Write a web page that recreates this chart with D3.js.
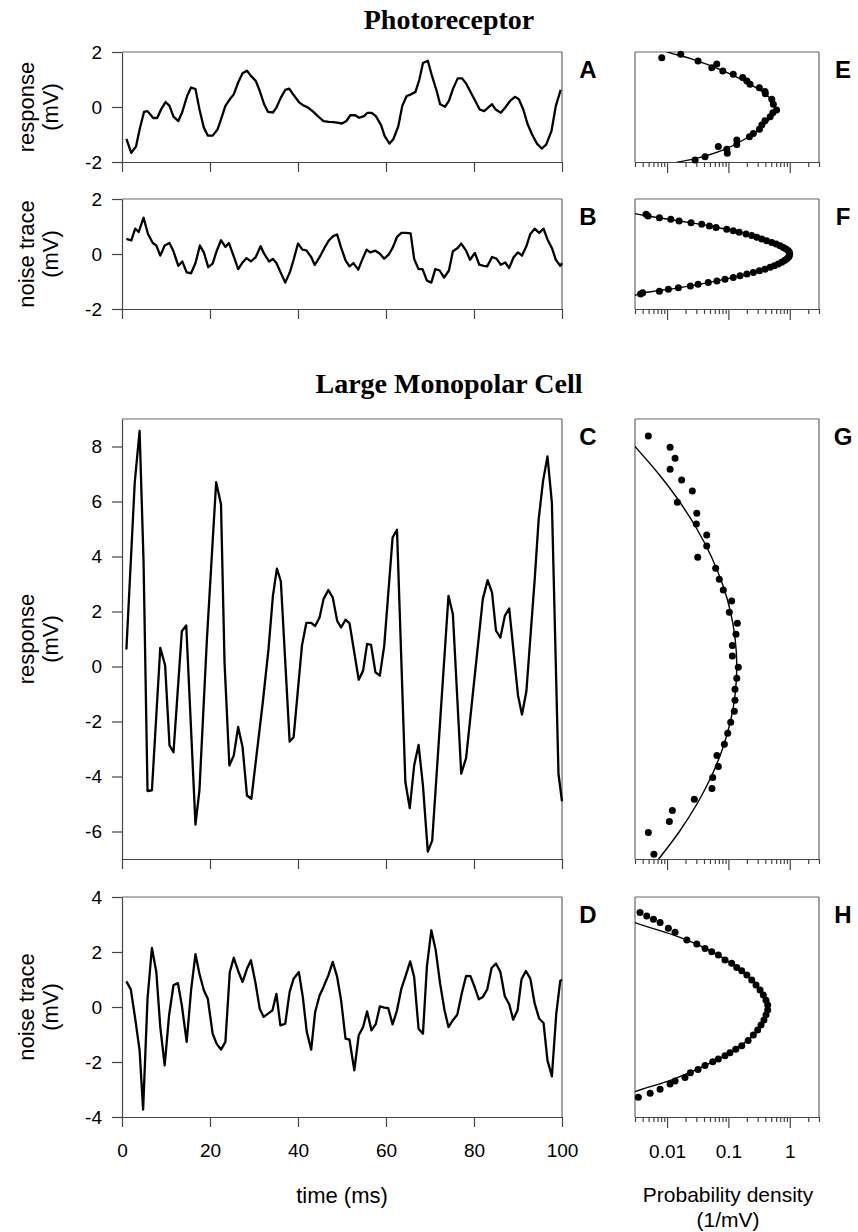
<!DOCTYPE html>
<html><head><meta charset="utf-8">
<script src="https://cdn.jsdelivr.net/npm/d3@7"></script>
<style>body{margin:0;background:#fff}svg{display:block}</style>
</head><body><svg id="c" width="858" height="1232"></svg>
<script>
// ---------- data ----------
const timeTicks=[0,20,40,60,80,100];
const densityMajorTicks=[0.01,0.1,1];
const densityTickLabels=["0.01","0.1","1"];
const densityMinorTicks=[0.003,0.004,0.005,0.006,0.007,0.008,0.009,0.02,0.03,0.04,0.05,0.06,0.07,0.08,0.09,0.2,0.3,0.4,0.5,0.6,0.7,0.8,0.9,2,3];
const ticksAB=[-2,0,2];
const ticksC=[-6,-4,-2,0,2,4,6,8];
const ticksD=[-4,-2,0,2,4];

// Panel A: photoreceptor response
const tA=[1.0,2.1,3.2,4.0,5.0,5.8,7.1,8.0,8.9,9.9,10.8,11.7,12.8,13.7,14.8,15.7,16.7,17.6,18.6,19.5,20.6,21.7,22.5,23.5,24.5,25.4,26.4,27.4,28.4,29.3,30.4,31.3,32.3,33.2,34.3,35.1,36.1,37.1,38.0,38.9,40.2,41.2,42.3,43.5,44.5,45.8,47.0,48.0,48.9,50.0,51.0,51.9,53.0,53.9,55.0,55.8,56.7,57.7,58.9,59.7,60.8,61.7,62.8,63.7,64.7,65.7,66.7,67.6,68.4,69.5,70.4,71.5,72.3,73.4,74.3,75.2,76.3,77.3,78.3,79.3,80.3,81.3,82.3,83.2,84.1,84.9,86.1,87.1,88.2,89.3,90.2,91.2,92.2,93.2,94.3,95.4,96.4,97.6,98.6,99.7];
const vA=[-1.16,-1.67,-1.43,-0.82,-0.18,-0.15,-0.4,-0.4,-0.08,0.18,0.04,-0.35,-0.51,-0.18,0.4,0.71,0.65,-0.08,-0.75,-1.04,-1.04,-0.82,-0.45,0.04,0.28,0.46,0.89,1.23,1.32,1.13,0.95,0.59,0.1,-0.18,-0.2,-0.02,0.34,0.62,0.67,0.46,0.18,0.06,-0.02,-0.18,-0.33,-0.51,-0.54,-0.55,-0.57,-0.6,-0.51,-0.3,-0.3,-0.39,-0.33,-0.21,-0.21,-0.33,-0.67,-1.06,-1.33,-1.16,-0.7,0.04,0.4,0.46,0.55,1.01,1.6,1.68,1.16,0.59,0.1,0.01,0.22,0.65,1.04,1.04,0.83,0.52,0.22,-0.09,-0.15,-0.02,0.1,-0.09,-0.21,-0.02,0.22,0.37,0.28,-0.09,-0.63,-1.0,-1.33,-1.51,-1.37,-0.88,0.04,0.62];

// Panel B: photoreceptor noise trace
const tB=[1.0,2.1,3.0,3.8,4.9,5.9,7.0,7.8,8.7,9.7,10.8,11.7,12.8,13.7,14.7,15.7,16.7,17.7,18.6,19.6,20.6,21.5,22.5,23.5,24.3,25.4,26.4,27.3,28.3,29.3,30.4,31.5,32.3,33.4,34.3,35.1,36.3,37.1,38.2,39.0,40.0,41.0,41.9,43.0,43.8,45.0,46.0,47.0,48.0,48.9,49.7,50.8,51.7,52.6,53.7,54.5,55.6,56.4,57.6,58.6,59.6,60.6,61.5,62.5,63.5,64.5,65.6,66.4,67.4,68.3,69.3,70.3,71.2,72.2,73.2,74.3,75.2,76.3,77.1,78.2,79.1,80.2,81.2,82.2,83.0,84.1,85.1,86.1,87.1,88.0,89.0,90.0,90.9,91.9,92.8,93.8,94.8,95.8,96.7,97.7,98.6,99.6,100];
const vB=[0.55,0.49,0.92,0.80,1.32,0.73,0.40,0.31,-0.06,0.31,0.40,0.10,-0.43,-0.27,-0.67,-0.70,-0.33,0.31,0.06,-0.48,-0.35,0.10,0.50,0.26,0.40,-0.09,-0.55,-0.33,-0.15,-0.27,-0.11,0.28,0.01,-0.27,-0.18,-0.33,-0.76,-1.04,-0.64,-0.21,0.38,0.16,0.13,-0.11,-0.40,-0.09,0.22,0.49,0.65,0.71,0.28,-0.23,-0.45,-0.33,-0.57,-0.24,0.16,0.06,0.12,0.01,-0.17,-0.02,0.22,0.62,0.77,0.77,0.75,-0.18,-0.55,-0.55,-0.97,-1.04,-0.55,-0.60,-0.86,-0.60,0.10,0.22,0.38,0.12,-0.21,0.04,-0.39,-0.43,-0.45,-0.11,-0.17,-0.39,-0.31,-0.51,-0.12,0.06,-0.06,0.28,0.73,0.92,0.77,0.92,0.53,0.22,-0.21,-0.43,-0.33];

// Panel C: LMC response
const tC=[1.0,2.9,4.0,4.9,5.8,6.8,8.7,9.8,10.8,11.7,13.6,14.6,16.7,17.6,19.3,20.5,21.4,22.5,23.3,24.4,25.4,26.4,27.4,28.4,29.4,32.0,33.3,34.3,35.2,36.1,38.1,39.0,40.9,41.9,43.0,43.9,44.9,45.8,46.9,47.9,48.9,49.8,50.8,51.7,53.8,54.8,55.7,56.6,57.6,58.6,59.6,61.5,62.5,64.4,65.4,66.4,67.4,68.4,69.5,70.5,74.2,75.2,77.1,78.2,82.0,83.1,84.1,85.0,86.0,87.0,88.0,90.0,90.9,91.9,93.8,94.7,95.7,96.7,97.7,99.2,100];
const vC=[0.62,6.7,8.57,3.8,-4.53,-4.5,0.68,0.04,-2.87,-3.12,1.28,1.49,-5.75,-4.5,1.0,4.27,6.7,5.9,0.16,-3.6,-3.24,-2.2,-2.93,-4.69,-4.81,-1.3,0.64,2.57,3.56,3.1,-2.73,-2.57,0.76,1.59,1.59,1.47,1.78,2.45,2.78,2.51,1.66,1.42,1.70,1.58,-0.48,-0.15,0.82,0.79,-0.21,-0.33,0.76,4.69,4.97,-4.2,-5.15,-3.6,-2.85,-4.33,-6.73,-6.33,2.57,1.9,-3.9,-3.33,2.45,3.14,2.69,1.3,1.05,1.84,2.11,-1.05,-1.75,-0.91,3.18,5.36,6.75,7.64,5.96,-3.9,-4.9];

// Panel D: LMC noise trace
const tD=[1.0,2.0,3.0,4.0,4.8,5.8,6.8,7.8,8.7,9.7,10.7,11.7,12.7,13.6,14.7,15.7,16.7,17.6,18.6,19.5,20.6,21.5,22.5,23.5,24.5,25.4,26.4,27.4,28.4,29.3,30.3,31.3,32.2,33.2,34.2,35.1,36.0,37.1,38.1,39.0,40.2,41.1,42.0,43.0,43.9,44.9,45.8,46.9,47.9,48.9,49.8,50.8,51.7,52.8,53.8,54.8,55.7,56.7,57.7,58.6,59.6,60.5,61.5,62.5,63.5,64.5,65.5,66.4,67.4,68.4,69.3,70.3,71.3,72.3,73.3,74.2,75.2,76.2,77.2,78.2,79.2,80.2,81.1,82.0,83.0,84.0,85.0,86.0,87.0,88.0,88.9,89.9,90.8,91.8,92.8,93.8,94.8,95.8,96.7,97.7,98.7,99.6,100];
const vD=[0.93,0.64,-0.42,-1.58,-3.73,0.30,2.15,1.27,-0.73,-2.12,-0.30,0.79,0.87,0.06,-1.27,0.61,1.92,1.21,0.61,0.30,-0.97,-1.33,-1.55,-1.27,1.27,1.79,1.31,0.91,1.39,1.70,0.91,-0.06,-0.36,-0.24,-0.12,0.48,-0.67,-0.61,0.55,1.03,1.27,0.36,-0.91,-1.55,-0.18,0.42,0.73,1.15,1.64,1.09,0.24,-1.15,-1.19,-2.30,-1.03,-0.73,-0.16,-0.85,-0.61,0.02,-0.02,-0.04,-0.63,-0.12,0.67,1.15,1.66,1.09,-0.79,-0.97,1.48,2.79,2.06,0.85,-0.12,-0.73,-0.48,-0.28,0.48,1.13,1.12,0.70,0.28,0.36,0.64,1.42,1.58,1.27,0.39,0.10,-0.46,-0.12,1.01,1.31,1.03,0.12,-0.42,-0.58,-1.94,-2.52,-0.24,0.95,0.99];

// Panel E: amplitude distribution (dots) and fit (curve)
const eV=[1.79,1.92,1.67,1.43,1.56,1.31,1.19,1.07,0.95,0.83,0.70,0.56,0.48,0.28,0.10,-0.11,-0.21,-0.35,-0.50,-0.65,-0.81,-0.96,-1.08,-1.20,-1.36,-1.44,-1.54,-1.68,-1.81,-1.93];
const eD=[0.0082,0.0167,0.032,0.0535,0.0645,0.081,0.12,0.171,0.2,0.225,0.32,0.395,0.40,0.51,0.54,0.61,0.53,0.48,0.395,0.35,0.32,0.255,0.22,0.137,0.137,0.0685,0.094,0.096,0.0416,0.0286];
const eFitV=[2.15,1.99,1.77,1.31,0.83,0.44,0.07,-0.04,-0.33,-0.78,-1.2,-1.56,-1.87,-2.0,-2.15];
const eFitD=[0.0075,0.0105,0.0237,0.083,0.225,0.42,0.575,0.58,0.51,0.33,0.175,0.083,0.030,0.0155,0.0095];

// Panel F
const fV=[1.45,1.38,1.32,1.26,1.20,1.14,1.08,1.02,0.96,0.90,0.85,0.79,0.73,0.67,0.61,0.55,0.48,0.42,0.36,0.30,0.24,0.18,0.12,0.06,0,-0.06,-0.12,-0.18,-0.24,-0.30,-0.36,-0.43,-0.48,-0.55,-0.61,-0.67,-0.73,-0.79,-0.85,-0.92,-0.98,-1.04,-1.10,-1.16,-1.23,-1.28,-1.35,-1.41,-1.45];
const fD=[0.00454,0.0049,0.0075,0.0115,0.0157,0.0246,0.0367,0.049,0.063,0.094,0.12,0.15,0.194,0.24,0.29,0.35,0.42,0.51,0.6,0.695,0.79,0.87,0.95,0.985,1.0,0.985,0.95,0.89,0.82,0.74,0.65,0.56,0.48,0.395,0.32,0.255,0.2,0.155,0.12,0.088,0.065,0.047,0.032,0.024,0.0153,0.0105,0.0075,0.004,0.0037];
const fFitV=[1.55,1.47,1.38,1.20,1.02,0.85,0.67,0.48,0.30,0.12,0,-0.12,-0.30,-0.48,-0.67,-0.85,-1.04,-1.23,-1.41,-1.50,-1.58];
const fFitD=[0.0022,0.003,0.0049,0.0157,0.049,0.12,0.24,0.42,0.695,0.95,1.0,0.95,0.74,0.48,0.255,0.12,0.047,0.0153,0.0042,0.003,0.0022];

// Panel G
const gV=[8.38,7.97,7.57,7.17,6.78,6.38,5.97,5.57,5.18,4.78,4.38,3.97,3.57,3.17,2.78,2.38,1.97,1.57,1.17,0.76,0.38,-0.03,-0.43,-0.83,-1.23,-1.63,-2.03,-2.43,-2.83,-3.24,-3.64,-4.04,-4.44,-4.83,-5.24,-5.64,-6.04,-6.83];
const gD=[0.00495,0.0112,0.0135,0.0112,0.0173,0.0258,0.0147,0.0305,0.030,0.0443,0.0443,0.0316,0.062,0.071,0.0826,0.113,0.1035,0.14,0.133,0.116,0.116,0.145,0.137,0.128,0.128,0.125,0.109,0.0975,0.086,0.065,0.0685,0.0555,0.054,0.0278,0.0122,0.0109,0.00495,0.0061];
const gFitV=[8.6,8.0,7.0,6.0,5.0,4.0,3.0,2.0,1.0,0,-1.0,-2.0,-3.0,-4.0,-5.0,-6.0,-7.0,-7.4];
const gFitD=[0.0017,0.003,0.0073,0.0159,0.0307,0.0526,0.080,0.108,0.129,0.137,0.129,0.108,0.080,0.0526,0.0307,0.0159,0.0073,0.0052];

// Panel H
const hV=[3.44,3.31,3.19,3.07,2.86,2.72,2.44,2.29,2.13,2.01,1.89,1.71,1.59,1.44,1.32,1.16,0.98,0.80,0.62,0.44,0.25,0.07,-0.11,-0.29,-0.47,-0.65,-0.84,-1.02,-1.22,-1.41,-1.54,-1.66,-1.77,-1.89,-1.99,-2.13,-2.27,-2.39,-2.56,-2.69,-2.8,-2.99,-3.14,-3.28];
const hD=[0.00362,0.00466,0.006,0.0077,0.0105,0.0135,0.021,0.0305,0.0416,0.0535,0.0685,0.088,0.113,0.137,0.165,0.2,0.24,0.282,0.328,0.371,0.41,0.437,0.437,0.41,0.38,0.34,0.30,0.255,0.21,0.165,0.132,0.106,0.088,0.0685,0.0555,0.0416,0.032,0.024,0.0196,0.0135,0.0112,0.0077,0.0053,0.0034];
const hFitV=[3.2,3.07,2.62,2.11,1.44,0.8,-0.05,-0.9,-1.5,-2.1,-2.63,-3.08,-3.2];
const hFitD=[0.0024,0.003,0.0126,0.0443,0.137,0.29,0.448,0.29,0.137,0.0443,0.0126,0.003,0.0024];

// ---------- drawing ----------
const svg=d3.select("#c");
const SANS="'Liberation Sans', Arial, sans-serif";
const SERIF="'Liberation Serif', 'Times New Roman', serif";
const AX="#444";
const xT=d3.scaleLinear().domain([0,100]).range([122,562]);
const xP=d3.scaleLog().domain([0.003,3]).range([635,819]);
const zip=(a,b)=>a.slice(0,Math.min(a.length,b.length)).map((d,i)=>[d,b[i]]);

function styleAxis(g){
  g.selectAll(".domain").attr("stroke",AX).attr("stroke-width",1.2);
  g.selectAll(".tick line").attr("stroke",AX).attr("stroke-width",1.2);
  g.selectAll("text").attr("font-family",SANS).attr("font-size",19).attr("fill","#000");
}

function leftPanel(top,bottom,domain,yTicks,t,v,lab1,lab2,letter,showX){
  const y=d3.scaleLinear().domain(domain).range([bottom,top]);
  const g=svg.append("g");
  g.append("line").attr("x1",xT(0)).attr("x2",xT(100)).attr("y1",top).attr("y2",top).attr("stroke","#666").attr("stroke-width",1.2);
  g.append("line").attr("x1",xT(100)).attr("x2",xT(100)).attr("y1",top).attr("y2",bottom).attr("stroke","#666").attr("stroke-width",1.2);
  g.append("g").attr("transform",`translate(${xT(0)},0)`)
    .call(d3.axisLeft(y).tickValues(yTicks).tickSize(10).tickSizeOuter(0).tickPadding(10).tickFormat(d=>String(d)))
    .call(styleAxis);
  g.append("g").attr("transform",`translate(0,${bottom})`)
    .call(d3.axisBottom(xT).tickValues(timeTicks).tickSize(10).tickSizeOuter(0).tickPadding(17).tickFormat(showX?(d=>String(d)):(()=>"")))
    .call(styleAxis);
  g.append("path").datum(zip(t,v))
    .attr("fill","none").attr("stroke","#000").attr("stroke-width",2.3).attr("stroke-linejoin","round")
    .attr("d",d3.line().x(d=>xT(d[0])).y(d=>y(d[1])));
  const cy=(top+bottom)/2;
  g.append("text").attr("transform",`translate(34,${cy}) rotate(-90)`).attr("text-anchor","middle")
    .attr("font-family",SANS).attr("font-size",22).text(lab1);
  g.append("text").attr("transform",`translate(58,${cy}) rotate(-90)`).attr("text-anchor","middle")
    .attr("font-family",SANS).attr("font-size",22).text(lab2);
  g.append("text").attr("x",588).attr("y",top+26).attr("text-anchor","middle")
    .attr("font-family",SANS).attr("font-weight","bold").attr("font-size",24).text(letter);
}

let clipN=0;
function rightPanel(top,bottom,domain,dv,dd,cv,cd,letter,showX){
  const y=d3.scaleLinear().domain(domain).range([bottom,top]);
  const g=svg.append("g");
  const id="clip"+(clipN++);
  svg.append("clipPath").attr("id",id).append("rect").attr("x",635).attr("y",top).attr("width",184).attr("height",bottom-top);
  g.append("line").attr("x1",635).attr("x2",819).attr("y1",top).attr("y2",top).attr("stroke","#666").attr("stroke-width",1.2);
  g.append("line").attr("x1",635).attr("x2",635).attr("y1",top).attr("y2",bottom).attr("stroke","#666").attr("stroke-width",1.2);
  g.append("line").attr("x1",819).attr("x2",819).attr("y1",top).attr("y2",bottom).attr("stroke","#666").attr("stroke-width",1.2);
  g.append("g").attr("transform",`translate(0,${bottom})`)
    .call(d3.axisBottom(xP).tickValues(densityMinorTicks).tickSize(5).tickSizeOuter(0).tickFormat(()=>""))
    .call(styleAxis);
  g.append("g").attr("transform",`translate(0,${bottom})`)
    .call(d3.axisBottom(xP).tickValues(densityMajorTicks).tickSize(11).tickSizeOuter(0).tickPadding(17)
      .tickFormat((d,i)=>showX?densityTickLabels[i]:""))
    .call(styleAxis);
  g.append("path").datum(zip(cv,cd)).attr("clip-path",`url(#${id})`)
    .attr("fill","none").attr("stroke","#000").attr("stroke-width",1.4)
    .attr("d",d3.line().curve(d3.curveCatmullRom.alpha(0.5)).x(d=>xP(d[1])).y(d=>y(d[0])));
  g.selectAll("circle.dot").data(zip(dv,dd)).enter().append("circle")
    .attr("cx",d=>xP(d[1])).attr("cy",d=>y(d[0])).attr("r",3.5).attr("fill","#000");
  g.append("text").attr("x",843).attr("y",top+26).attr("text-anchor","middle")
    .attr("font-family",SANS).attr("font-weight","bold").attr("font-size",24).text(letter);
}

svg.append("text").attr("x",449).attr("y",29).attr("text-anchor","middle")
  .attr("font-family",SERIF).attr("font-weight","bold").attr("font-size",28).text("Photoreceptor");
svg.append("text").attr("x",449).attr("y",393).attr("text-anchor","middle")
  .attr("font-family",SERIF).attr("font-weight","bold").attr("font-size",28).text("Large Monopolar Cell");

leftPanel(52,162,[-2,2],ticksAB,tA,vA,"response","(mV)","A",false);
leftPanel(199,309,[-2,2],ticksAB,tB,vB,"noise trace","(mV)","B",false);
leftPanel(419,859,[-7,9],ticksC,tC,vC,"response","(mV)","C",false);
leftPanel(897,1117,[-4,4],ticksD,tD,vD,"noise trace","(mV)","D",true);

rightPanel(52,162,[-2,2],eV,eD,eFitV,eFitD,"E",false);
rightPanel(199,309,[-2,2],fV,fD,fFitV,fFitD,"F",false);
rightPanel(419,859,[-7,9],gV,gD,gFitV,gFitD,"G",false);
rightPanel(897,1117,[-4,4],hV,hD,hFitV,hFitD,"H",true);

svg.append("text").attr("x",342).attr("y",1203).attr("text-anchor","middle")
  .attr("font-family",SANS).attr("font-size",22).text("time (ms)");
svg.append("text").attr("x",728).attr("y",1202).attr("text-anchor","middle")
  .attr("font-family",SANS).attr("font-size",21).text("Probability density");
svg.append("text").attr("x",728).attr("y",1227).attr("text-anchor","middle")
  .attr("font-family",SANS).attr("font-size",21).text("(1/mV)");
</script>
</body></html>
